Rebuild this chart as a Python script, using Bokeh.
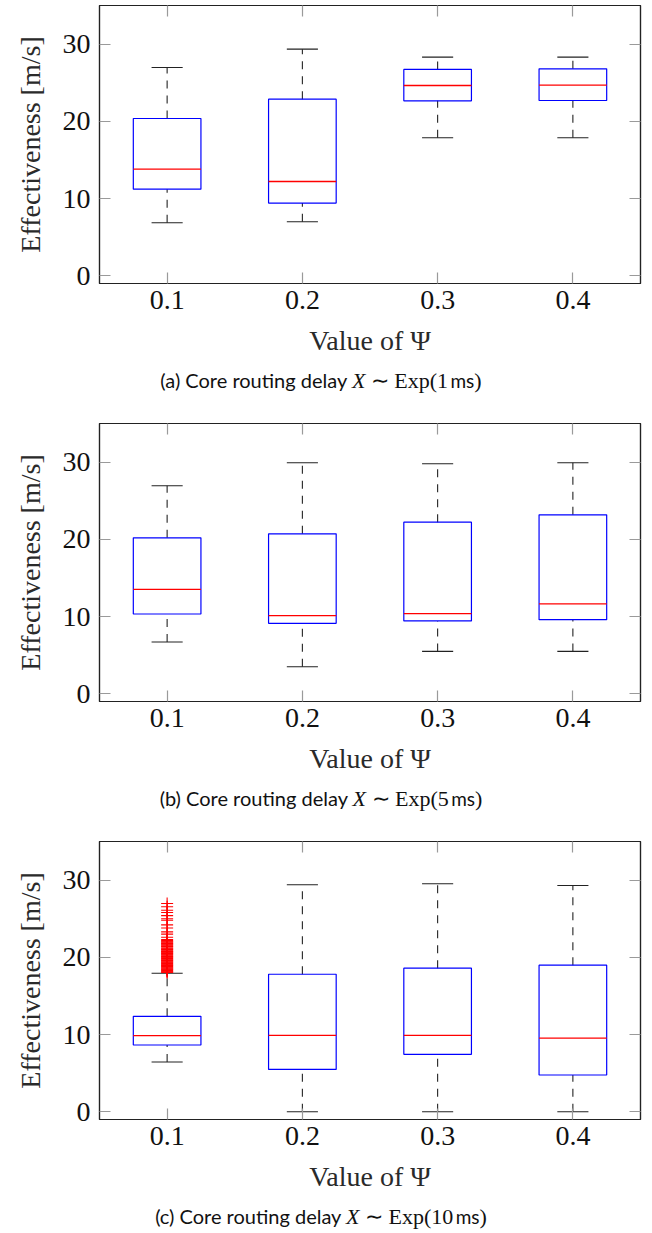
from bokeh.plotting import figure
from bokeh.models import LinearAxis, FixedTicker, Range1d, Div
from bokeh.layouts import column
from bokeh.embed import file_html
from bokeh.resources import INLINE

# ---------------- data ----------------
psi = [0.1, 0.2, 0.3, 0.4]
x_tick_labels = ["0.1", "0.2", "0.3", "0.4"]
y_ticks = [0, 10, 20, 30]

# (a) X ~ Exp(1 ms)
a_lower = [6.86, 6.99, 17.87, 17.87]
a_q1 = [11.22, 9.41, 22.66, 22.70]
a_med = [13.81, 12.21, 24.64, 24.69]
a_q3 = [20.37, 22.87, 26.72, 26.80]
a_upper = [26.97, 29.35, 28.31, 28.31]

# (b) X ~ Exp(5 ms)
b_lower = [6.70, 3.50, 5.49, 5.49]
b_q1 = [10.33, 9.12, 9.43, 9.60]
b_med = [13.53, 10.12, 10.38, 11.63]
b_q3 = [20.19, 20.71, 22.22, 23.17]
b_upper = [26.93, 29.92, 29.79, 29.92]

# (c) X ~ Exp(10 ms)
c_lower = [6.44, 0.0, 0.0, 0.0]
c_q1 = [8.65, 5.49, 7.44, 4.76]
c_med = [9.86, 9.90, 9.90, 9.55]
c_q3 = [12.36, 17.81, 18.59, 18.98]
c_upper = [17.94, 29.40, 29.53, 29.31]
c_outliers_01 = [18.05, 18.12, 18.2, 18.31, 18.4, 18.47, 18.58, 18.66, 18.75,
                 18.83, 18.94, 19.02, 19.1, 19.21, 19.3, 19.38, 19.49, 19.57,
                 19.66, 19.75, 19.83, 19.94, 20.03, 20.11, 20.2, 20.32, 20.4,
                 20.49, 20.58, 20.67, 20.76, 20.84, 20.95, 21.03, 21.12, 21.2,
                 21.33, 21.41, 21.5, 21.6, 21.69, 21.78, 21.86, 21.97, 22.08,
                 22.17, 22.3, 22.6, 23.0, 23.3, 23.8, 24.2, 24.8, 25.0, 25.4,
                 25.8, 26.1, 26.55, 26.97]

captions = [
    ("(a)", "1"),
    ("(b)", "5"),
    ("(c)", "10"),
]

SERIF = "Liberation Serif"
SANS = "Lato"
BOX_HALF = 0.025
CAP_HALF = 0.0115


def make_panel(lower, q1, med, q3, upper, outliers=None):
    p = figure(width=652, height=360,
               x_range=Range1d(0.05, 0.45), y_range=Range1d(-1, 35),
               output_backend="svg", toolbar_location=None,
               min_border_left=99, min_border_right=12,
               min_border_top=5, min_border_bottom=77)
    p.xgrid.visible = False
    p.ygrid.visible = False
    p.outline_line_color = "#222222"
    p.outline_line_width = 1.2
    p.background_fill_color = "white"
    p.border_fill_color = "white"

    xl = [x - BOX_HALF for x in psi]
    xr = [x + BOX_HALF for x in psi]
    cl = [x - CAP_HALF for x in psi]
    cr = [x + CAP_HALF for x in psi]

    # whiskers
    p.segment(x0=psi, y0=q3, x1=psi, y1=upper, line_color="#222222",
              line_width=1.1, line_dash="8 7")
    p.segment(x0=psi, y0=lower, x1=psi, y1=q1, line_color="#222222",
              line_width=1.1, line_dash="8 7")
    p.segment(x0=cl, y0=upper, x1=cr, y1=upper, line_color="#222222", line_width=1.1)
    p.segment(x0=cl, y0=lower, x1=cr, y1=lower, line_color="#222222", line_width=1.1)
    # boxes
    p.vbar(x=psi, width=2 * BOX_HALF, bottom=q1, top=q3, fill_color=None,
           line_color="#0000ff", line_width=1.2)
    # medians
    p.segment(x0=xl, y0=med, x1=xr, y1=med, line_color="#ff0000", line_width=1.3)

    if outliers:
        p.scatter(x=[psi[0]] * len(outliers), y=outliers, marker="cross",
                  size=12, line_color="#ff0000", line_width=1.1)

    # axes
    xa = p.xaxis[0]
    xa.ticker = FixedTicker(ticks=psi)
    xa.major_label_overrides = {t: s for t, s in zip(psi, x_tick_labels)}
    ya = p.yaxis[0]
    ya.ticker = FixedTicker(ticks=y_ticks)
    for ax in (xa, ya):
        ax.minor_tick_line_color = None
        ax.major_tick_in = 11
        ax.major_tick_out = 0
        ax.major_tick_line_color = "#9a9a9a"
        ax.major_tick_line_width = 1.2
        ax.axis_line_color = "#222222"
        ax.axis_line_width = 1.2
        ax.major_label_text_font = SERIF
        ax.major_label_text_font_size = "28px"
        ax.major_label_text_color = "#111111"
        ax.axis_label_text_font = SERIF
        ax.axis_label_text_font_size = "28px"
        ax.axis_label_text_font_style = "normal"
        ax.axis_label_text_color = "#2a2a2a"
    xa.axis_label = "Value of Ψ"
    xa.major_label_standoff = 7
    xa.axis_label_standoff = 13
    ya.axis_label = "Effectiveness [m/s]"
    ya.major_label_standoff = 9
    ya.axis_label_standoff = 14

    # mirrored ticks on right and top
    for loc, ticks in (("right", y_ticks), ("above", psi)):
        ax = LinearAxis(ticker=FixedTicker(ticks=ticks))
        ax.major_label_text_font_size = "1px"
        ax.major_label_text_alpha = 0
        ax.major_label_standoff = 0
        ax.minor_tick_line_color = None
        ax.major_tick_in = 11
        ax.major_tick_out = 0
        ax.major_tick_line_color = "#9a9a9a"
        ax.major_tick_line_width = 1.2
        ax.axis_line_color = "#222222"
        ax.axis_line_width = 1.2
        p.add_layout(ax, loc)
    return p


def make_caption(label, ms, height):
    html = (
        '<div style="width:652px;text-align:center;padding-top:8px;'
        f'font-family:\'{SANS}\';font-size:20px;line-height:24px;color:#111;padding-right:10px;box-sizing:border-box">'
        f'{label} Core routing delay '
        f'<span style="font-family:\'{SERIF}\';font-style:italic;font-size:22px">X</span>'
        f'<span style="font-family:\'{SERIF}\';font-size:22px"> ∼ Exp({ms}</span>'
        '<span style="font-size:19px">&thinsp;ms</span>'
        f'<span style="font-family:\'{SERIF}\';font-size:22px">)</span>'
        '</div>'
    )
    return Div(text=html, width=652, height=height, margin=(0, 0, 0, 0))


panels = [
    make_panel(a_lower, a_q1, a_med, a_q3, a_upper),
    make_panel(b_lower, b_q1, b_med, b_q3, b_upper),
    make_panel(c_lower, c_q1, c_med, c_q3, c_upper, c_outliers_01),
]
heights = [58, 58, 37]
children = []
for p, (lab, ms), h in zip(panels, captions, heights):
    p.margin = (0, 0, 0, 0)
    children.append(p)
    children.append(make_caption(lab, ms, h))

layout = column(*children, spacing=0, margin=(0, 0, 0, 0))
open("out.html", "w").write(file_html(layout, INLINE))
